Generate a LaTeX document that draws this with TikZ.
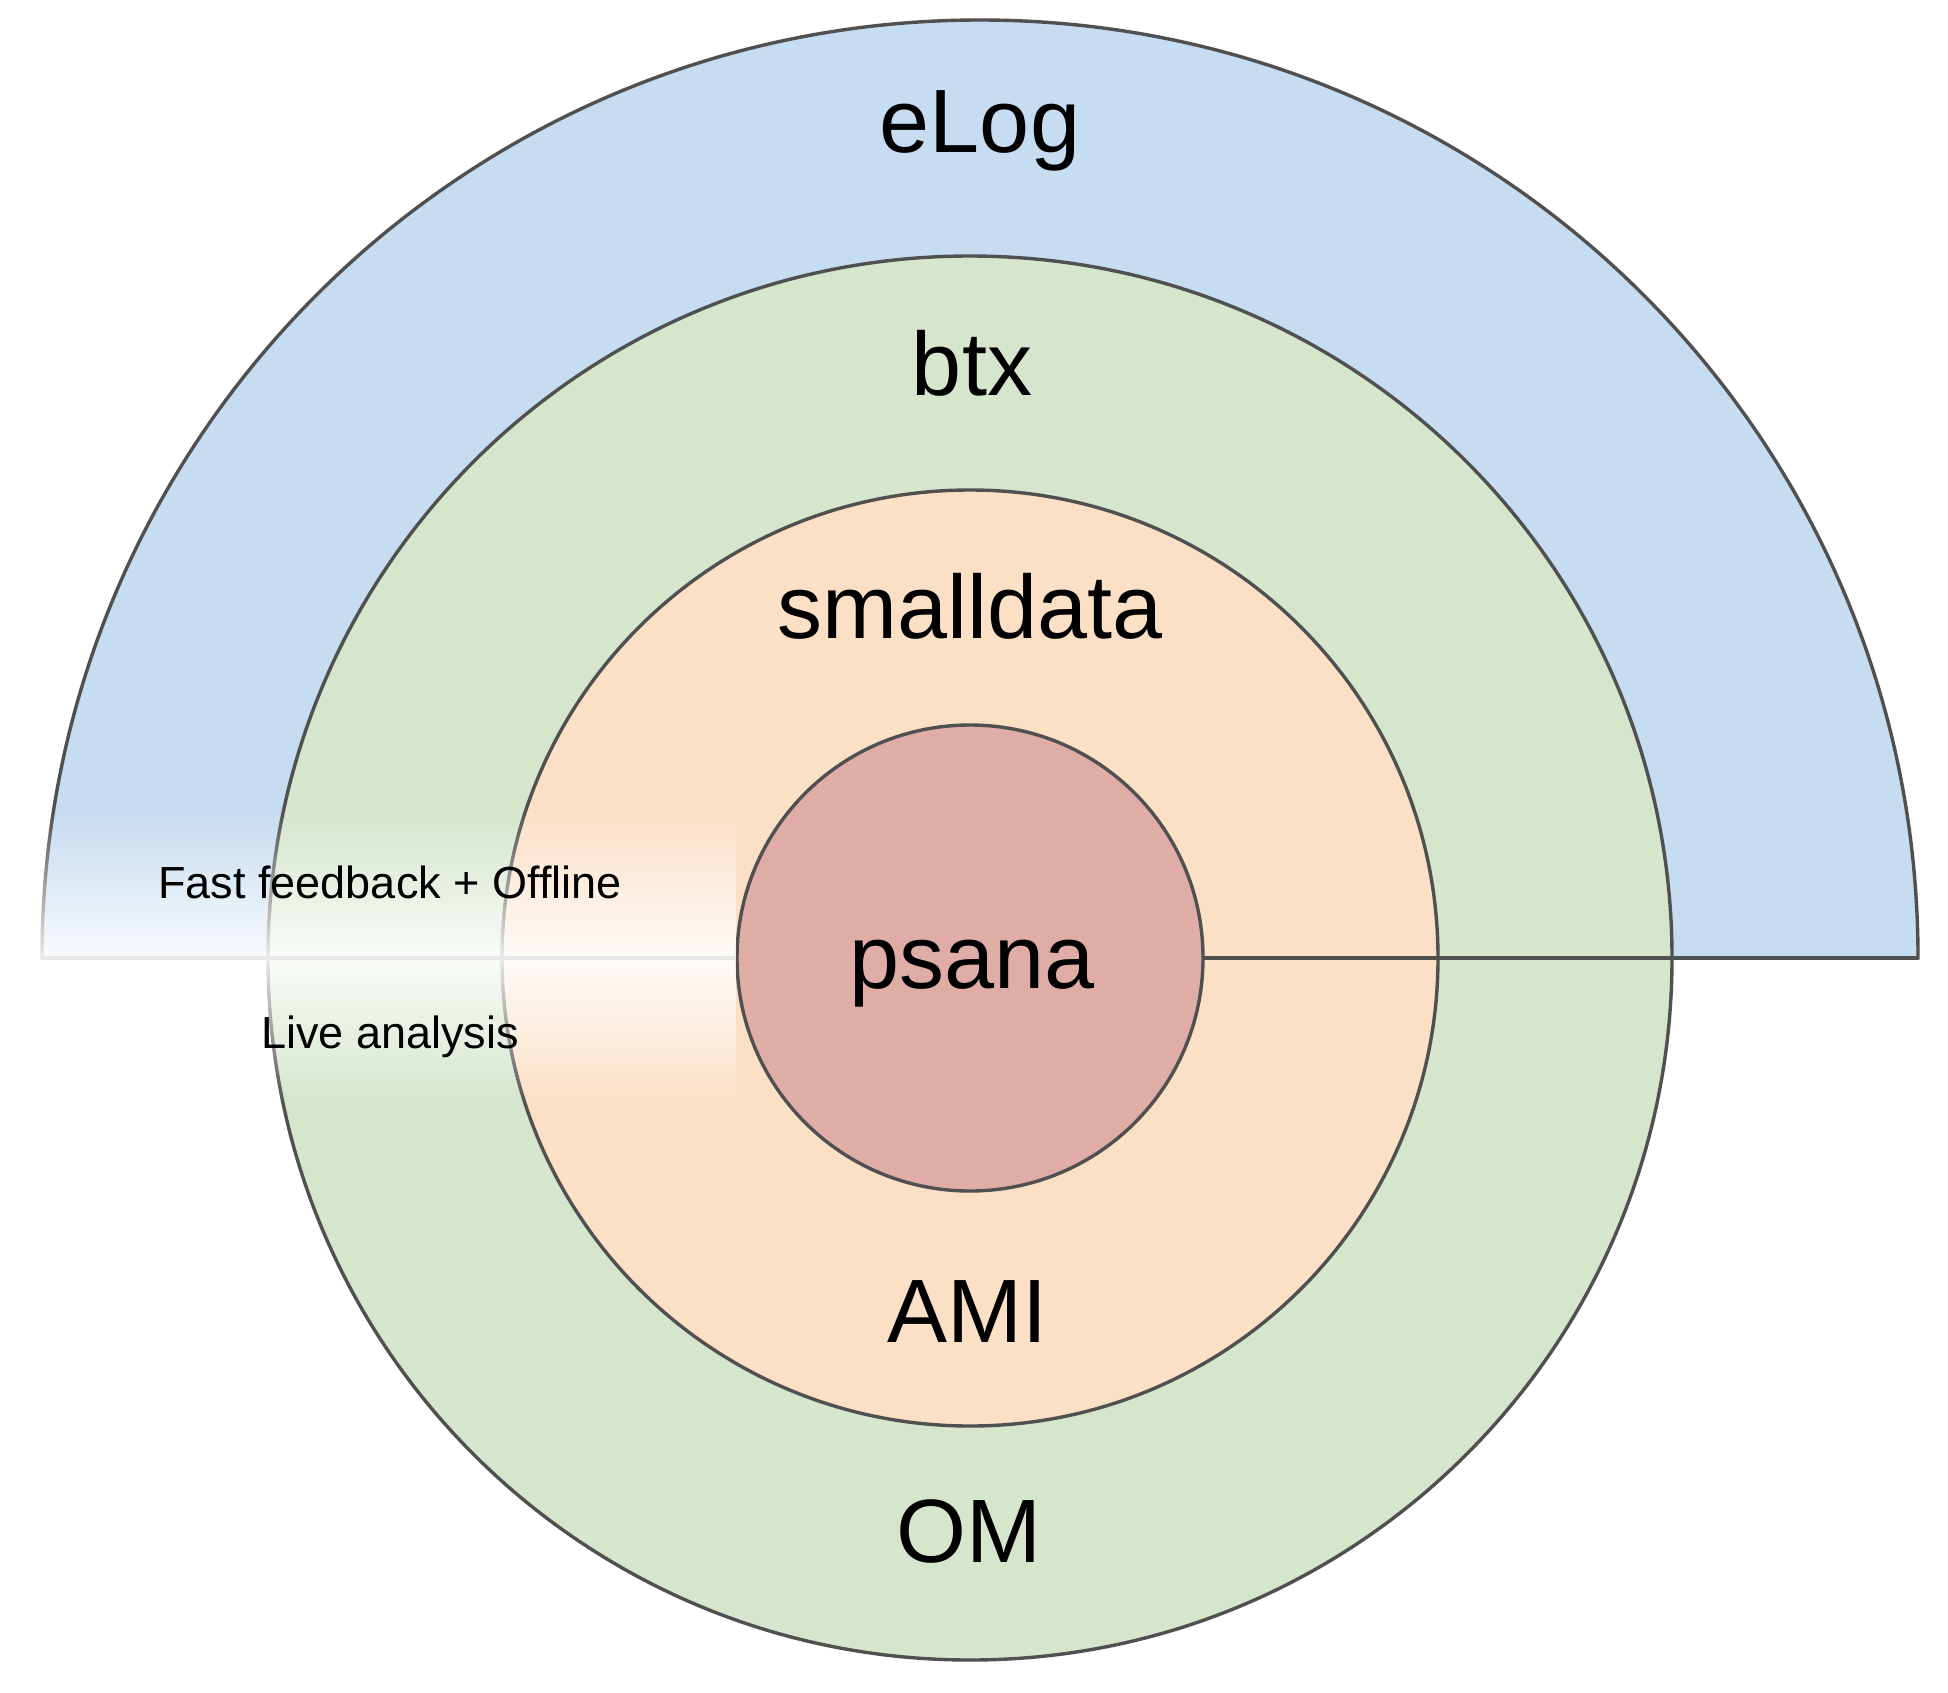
\documentclass[tikz,border=0pt]{standalone}
\usepackage{fontspec}
\setmainfont{Liberation Sans}[Ligatures=NoCommon]
\usetikzlibrary{fadings}
\definecolor{elogblue}{RGB}{198,220,240}
\definecolor{ringgreen}{RGB}{213,230,204}
\definecolor{ringorange}{RGB}{252,224,198}
\definecolor{corered}{RGB}{224,173,166}
\definecolor{edgegray}{RGB}{80,80,80}
\tikzfading[name=fadetop, top color=transparent!100, bottom color=transparent!12]
\tikzfading[name=fadebottom, top color=transparent!12, bottom color=transparent!100]
\tikzset{
  ring/.style={draw=edgegray, line width=1.7pt},
  biglabel/.style={anchor=base, inner sep=0pt, font=\fontsize{45}{54}\selectfont},
  smalllabel/.style={anchor=base, inner sep=0pt, font=\fontsize{22.5}{27}\selectfont},
}
\begin{document}
\begin{tikzpicture}[x=0.5pt,y=-0.5pt]
\useasboundingbox (0,0) rectangle (1948,1692);
\fill[white] (0,0) rectangle (1948,1692);
\coordinate (c) at (970,958);
\coordinate (ec) at (980,958);
\coordinate (lineL) at (42,958);
\coordinate (lineR) at (1918,958);
% eLog half disc
\filldraw[ring, fill=elogblue, line join=miter] (lineL) arc[start angle=180, end angle=0, radius=469pt] -- cycle;
% btx / OM
\filldraw[ring, fill=ringgreen] (c) circle[radius=351pt];
% smalldata / AMI
\filldraw[ring, fill=ringorange] (c) circle[radius=234pt];
% dividing line
\draw[ring] (lineL) -- (lineR);
% psana
\filldraw[ring, fill=corered] (c) circle[radius=116.5pt];
% white fade on the left
\fill[white, path fading=fadetop] (30,810) rectangle (736,958);
\fill[white, path fading=fadebottom] (30,958) rectangle (736,1105);
% labels
\node[biglabel] (elog) at (980,152) {eLog};
\node[biglabel] (btx) at (972,395) {btx};
\node[biglabel] (smalldata) at (970,638) {smalldata};
\node[biglabel] (psana) at (972,988) {psana};
\node[biglabel] (ami) at (967,1342) {AMI};
\node[biglabel] (om) at (969,1562) {OM};
\node[smalllabel] (fast) at (390,898) {Fast feedback + Offline};
\node[smalllabel] (live) at (390,1048) {Live analysis};
\end{tikzpicture}
\end{document}
